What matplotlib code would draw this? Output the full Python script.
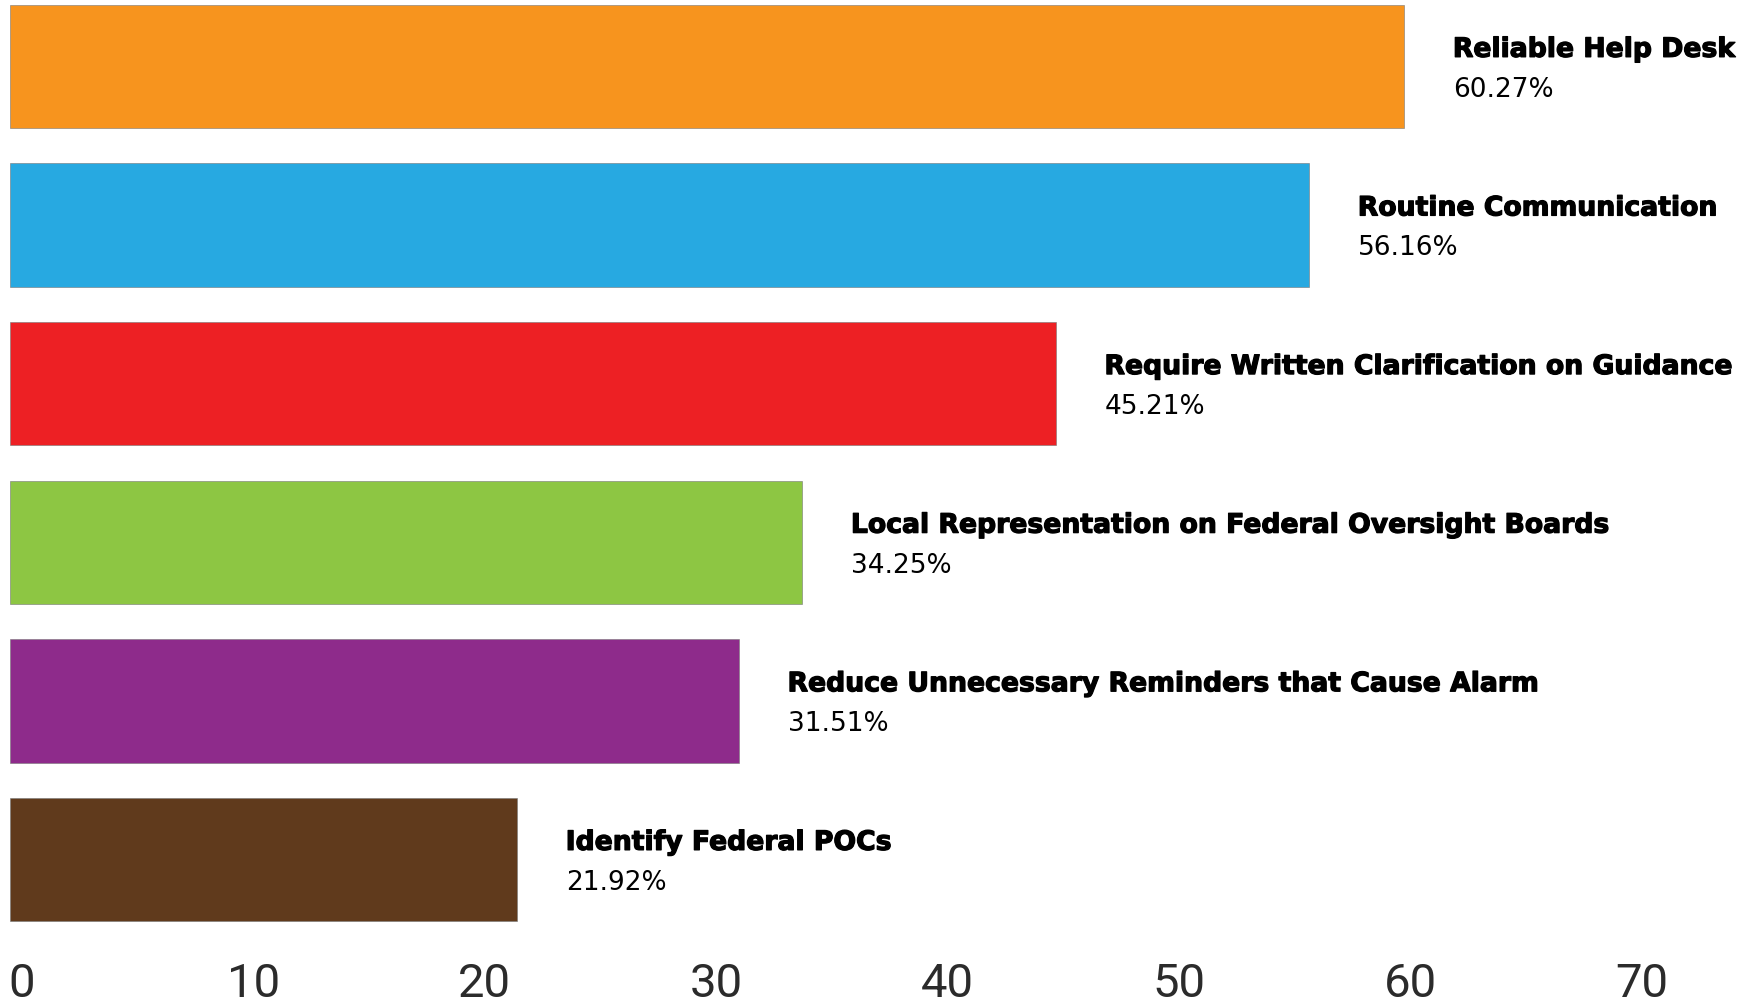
#  Importing libraries
import matplotlib.pyplot as plt
from matplotlib import transforms
import matplotlib.patheffects as pe

#  Chart data
categories = ['Reliable Help Desk', 'Routine Communication',
              'Require Written Clarification on Guidance',
              'Local Representation on Federal Oversight Boards',
              'Reduce Unnecessary Reminders that Cause Alarm',
              'Identify Federal POCs']
values = [60.27, 56.16, 45.21, 34.25, 31.51, 21.92]
colors = ['#F7941E', '#27A9E1', '#ED2024', '#8DC643', '#8E2B8B', '#603A1C']
x_ticks = [0, 10, 20, 30, 40, 50, 60, 70]

#  Figure / axes
fig = plt.figure(figsize=(17.54, 10.04), dpi=100)
ax = fig.add_axes([10/1754, 64/1004, 1735/1754, 940/1004])

ypos = list(range(len(categories)))
ax.barh(ypos, values, height=0.777, color=colors, edgecolor='#777777', linewidth=0.4)

heavy = [pe.withStroke(linewidth=0.9, foreground='black')]
for y, v, name in zip(ypos, values, categories):
    ax.text(v + 2.1, y - 0.105, name, fontsize=19.2, fontweight='bold',
            family='DejaVu Sans', color='black', va='center', ha='left',
            path_effects=heavy)
    ax.text(v + 2.1, y + 0.14, '%.2f%%' % v, fontsize=19,
            family='DejaVu Sans', color='black', va='center', ha='left')

ax.set_xlim(0, 75)
ax.set_ylim(5.501, -0.4256)

ax.set_xticks(x_ticks)
ax.set_yticks([])
ax.tick_params(axis='x', length=0, pad=16, labelsize=34, labelcolor='#2b2b2b')
for lab in ax.get_xticklabels():
    lab.set_family(['Roboto', 'DejaVu Sans'])
    lab.set_transform(lab.get_transform() + transforms.ScaledTranslation(12/100, 0, fig.dpi_scale_trans))

for s in ax.spines.values():
    s.set_visible(False)

plt.savefig('out.png', dpi=100)
